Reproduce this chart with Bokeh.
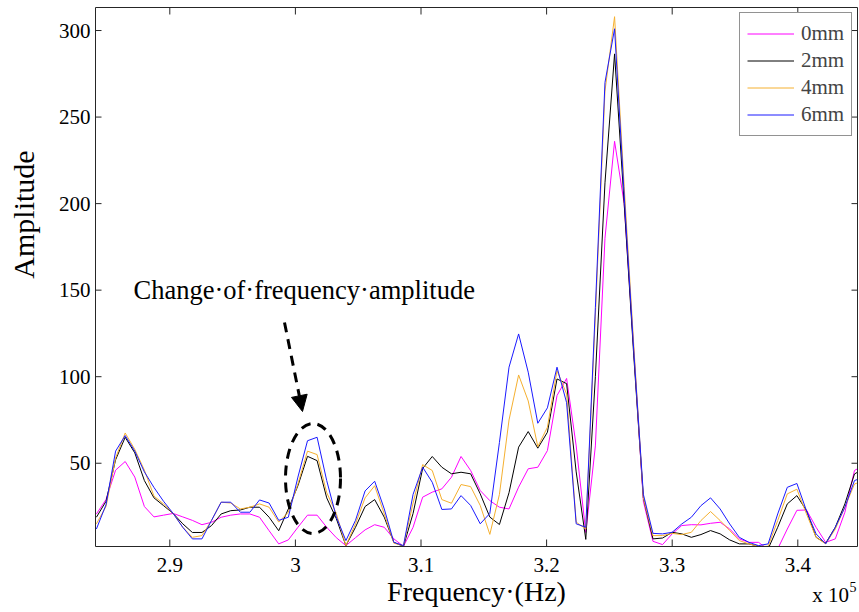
import math
from bokeh.plotting import figure
from bokeh.models import Range1d, Legend, LegendItem, Label, Arrow, NormalHead
from bokeh.core.properties import value
from bokeh.embed import file_html
from bokeh.resources import INLINE

# ---------------- data ----------------
freq = [284156, 284920, 285684, 286448, 287212, 287976, 288740, 289504, 290268, 291032,
        291796, 292560, 293324, 294088, 294852, 295616, 296380, 297144, 297908, 298672,
        299436, 300200, 300964, 301728, 302492, 303256, 304020, 304784, 305548, 306312,
        307076, 307840, 308604, 309368, 310132, 310896, 311660, 312424, 313188, 313952,
        314716, 315480, 316244, 317008, 317772, 318536, 319300, 320064, 320828, 321592,
        322356, 323120, 323884, 324648, 325412, 326176, 326940, 327704, 328468, 329232,
        329996, 330760, 331524, 332288, 333052, 333816, 334580, 335344, 336108, 336872,
        337636, 338400, 339164, 339928, 340692, 341456, 342220, 342984, 343748, 344512,
        345276]

amp_0mm = [20.7, 29, 46, 51, 42, 25, 19, 20, 21, 19,
           17, 14.5, 15.9, 18.8, 20, 20.7, 20.7, 18.8, 11, 3.4,
           5.7, 13, 20, 20, 13, 7, 2.4, 7, 11.5, 14.5,
           13, 6.3, 2, 13, 30.4, 33.3, 35.2, 41.9, 53.9, 45.8,
           34.2, 28.4, 24.6, 23.6, 36.2, 46.8, 47.7, 57.3, 89.1, 99,
           60, 10, 60, 180, 236, 200, 115, 28, 4.9, 3.0,
           9.2, 14, 14.5, 14.4, 15.3, 15.9, 12, 6.3, 4.3, 4.3,
           0.3, 0.5, 12, 22.8, 23, 13, 4.3, 6.3, 21.7, 45.8,
           49]

amp_2mm = [18.8, 28, 52, 65, 56, 40, 30, 25.5, 21, 15,
           10, 10, 14, 20.7, 22.6, 23, 24.6, 24.6, 18.8, 11,
           23.6, 37, 54, 51.5, 30, 18, 2.4, 13, 25, 29,
           18.8, 4.3, 2, 21, 47, 53.9, 47.7, 43.9, 44.8, 43.9,
           32.3, 18.9, 14.6, 33, 59.3, 68.3, 58.7, 67.9, 98.7, 96,
           45, 6, 100, 212, 286.5, 200, 112, 30, 6.3, 6.8,
           10.1, 9.2, 7.2, 8.8, 11.1, 9.2, 5.7, 3.4, 3.4, 2.0,
           0.5, 13, 26.5, 31.3, 22.6, 7.2, 3.8, 13, 26.5, 43.8,
           47]

amp_4mm = [15, 25, 53, 67.5, 58, 46, 31, 26.5, 21, 13,
           7.2, 8.2, 17, 27.5, 27, 23.6, 24.6, 26.5, 24.6, 16,
           21.7, 38, 57, 55, 33, 21, 2.4, 15, 30, 37,
           20.7, 3.8, 2.4, 27, 49.2, 45.8, 29, 26.9, 37.7, 36.5,
           25.6, 8.9, 32, 75, 101, 86, 59.6, 70.8, 103.5, 90,
           16, 12, 135, 265, 308, 210, 118, 30, 8.2, 8.2,
           9.5, 8.8, 10.1, 16.9, 22.1, 16.9, 11.1, 5.3, 3.4, 2.0,
           2.0, 16.9, 32.3, 35, 20.7, 7.2, 3.4, 12, 24.6, 38,
           40]

amp_6mm = [12, 26, 57, 66, 57, 45, 36, 28, 21, 13,
           6.3, 6.3, 17, 27.5, 27.5, 21.7, 21.7, 28.8, 27, 17,
           18.8, 42, 63, 65, 40, 19, 5.3, 17, 34, 39.6,
           23.6, 4.3, 2.4, 32, 47.7, 39, 23.3, 23.6, 31.3, 25.6,
           15, 21, 62, 105.5, 124.7, 102.6, 73.1, 82, 105.5, 85,
           15, 13, 140, 270, 301, 205, 115, 32, 9.5, 9.2,
           10.1, 14.9, 18.8, 25.5, 30, 23.6, 14.9, 7.2, 4.3, 2.4,
           3.4, 20.7, 36.1, 38.3, 22.5, 9.2, 3.4, 13, 24.6, 40,
           42]

series_labels = ["0mm", "2mm", "4mm", "6mm"]
series_colors = ["#ff00ff", "#000000", "#f5b030", "#1a1aff"]

x_ticks = [290000, 300000, 310000, 320000, 330000, 340000]
x_tick_labels = ["2.9", "3", "3.1", "3.2", "3.3", "3.4"]
y_ticks = [50, 100, 150, 200, 250, 300]
y_tick_labels = ["50", "100", "150", "200", "250", "300"]

# axis limits of the plotted box
X0, X1 = 284084, 344753
Y0, Y1 = 1.9, 313.3

# ---------------- geometry (pixels of the 859x612 page) ----------------
W, H = 859, 612
BL, BR, BT, BB = 95, 857, 7, 546          # plotted box edges in page pixels
SX = (X1 - X0) / (BR - BL)                 # data units per pixel
SY = (Y1 - Y0) / (BB - BT)

def dx(px):
    return X0 + (px - BL) * SX

def dy(py):
    return Y0 + (BB - py) * SY

SERIF = "Liberation Serif"
AX = "#262626"

p = figure(width=W, height=H, output_backend="svg", toolbar_location=None,
           x_range=Range1d(dx(0), dx(W)), y_range=Range1d(dy(H), dy(0)),
           min_border=0, min_border_left=0, min_border_right=0,
           min_border_top=0, min_border_bottom=0)
p.xaxis.visible = False
p.yaxis.visible = False
p.grid.visible = False
p.outline_line_color = None
p.background_fill_color = "white"
p.border_fill_color = "white"

# ---------------- series ----------------
renderers = []
for ys, c in zip([amp_0mm, amp_2mm, amp_4mm, amp_6mm], series_colors):
    renderers.append(p.line(freq, ys, line_color=c, line_width=1))

# mask everything outside the plotted box (clip like an axes box)
p.quad(left=[dx(-20), dx(-20), X1, dx(-20)],
       right=[dx(W + 20), X0, dx(W + 20), dx(W + 20)],
       bottom=[dy(H + 20), dy(H + 20), dy(H + 20), Y1],
       top=[Y0, dy(-20), dy(-20), dy(-20)],
       fill_color="white", line_color=None)

# box and mirrored ticks
p.quad(left=[X0], right=[X1], bottom=[Y0], top=[Y1], fill_color=None,
       line_color=AX, line_width=1)
n_x = len(x_ticks)
n_y = len(y_ticks)
p.segment(x0=x_ticks, y0=[Y0] * n_x, x1=x_ticks, y1=[dy(BB - 7)] * n_x, line_color=AX)
p.segment(x0=x_ticks, y0=[Y1] * n_x, x1=x_ticks, y1=[dy(BT + 7)] * n_x, line_color=AX)
p.segment(x0=[X0] * n_y, y0=y_ticks, x1=[dx(BL + 6)] * n_y, y1=y_ticks, line_color=AX)
p.segment(x0=[X1] * n_y, y0=y_ticks, x1=[dx(BR - 6)] * n_y, y1=y_ticks, line_color=AX)

# tick labels
p.text(x=x_ticks, y=[dy(564)] * n_x, text=x_tick_labels, text_align="center",
       text_baseline="middle", text_font=value(SERIF), text_font_size=value("21px"),
       text_color="black")
p.text(x=[dx(BL - 5)] * n_y, y=y_ticks, text=y_tick_labels, text_align="right",
       text_baseline="middle", text_font=value(SERIF), text_font_size=value("21px"),
       text_color="black")

# legend
legend = Legend(items=[LegendItem(label=l, renderers=[r]) for l, r in zip(series_labels, renderers)],
                location=(739, H - 136), padding=7, spacing=0,
                label_height=27, glyph_height=27, glyph_width=47, label_standoff=7,
                label_text_font=SERIF, label_text_font_size="21px",
                border_line_color=AX, border_line_width=1,
                background_fill_color="white", background_fill_alpha=1)
p.add_layout(legend)

# annotation: dashed ellipse, dashed arrow, text
p.ellipse(x=[dx(312.5)], y=[dy(478)], width=[dx(340) - dx(285)], height=[dy(423) - dy(533)],
          fill_color=None, line_color="black", line_width=3, line_dash="10 7")
p.add_layout(Arrow(x_start=dx(284), y_start=dy(322), x_end=dx(302), y_end=dy(411),
                   line_color="black", line_width=3, line_dash="10 7",
                   end=NormalHead(size=16, fill_color="black", line_color="black")))
p.add_layout(Label(x=dx(133), y=dy(289), text="Change\u00b7of\u00b7frequency\u00b7amplitude",
                   text_font=SERIF, text_font_size="26.5px", text_color="black",
                   text_baseline="middle", text_align="left"))

# axis titles
p.add_layout(Label(x=dx(23), y=dy(214), text="Amplitude", angle=math.pi / 2,
                   text_font=SERIF, text_font_size="30px", text_color="black",
                   text_baseline="middle", text_align="center"))
p.add_layout(Label(x=dx(476), y=dy(591), text="Frequency\u00b7(Hz)",
                   text_font=SERIF, text_font_size="28px", text_color="black",
                   text_baseline="middle", text_align="center"))

# exponent note
p.add_layout(Label(x=dx(811.7), y=dy(594), text="x 10", text_font=SERIF,
                   text_font_size="21px", text_color="black",
                   text_baseline="middle", text_align="left"))
p.add_layout(Label(x=dx(849), y=dy(586), text="5", text_font=SERIF,
                   text_font_size="14px", text_color="black",
                   text_baseline="middle", text_align="left"))

open("out.html", "w").write(file_html(p, INLINE))
